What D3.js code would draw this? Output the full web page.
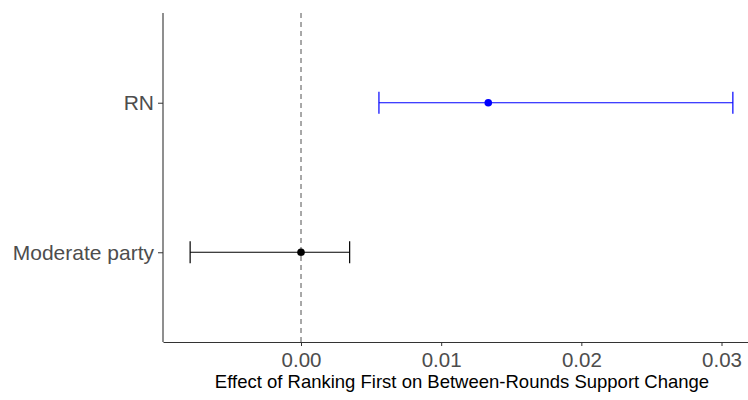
<!DOCTYPE html>
<html>
<head>
<style>
  body { margin: 0; background: #fff; }
  svg { display: block; font-family: "Liberation Sans", Arial, sans-serif; }
</style>
</head>
<body>
<svg width="748" height="400"></svg>
<script src="https://cdn.jsdelivr.net/npm/d3@7"></script>
<script>
// data
var parties = ["RN", "Moderate party"];
var estimates = [0.01336, 0.0];
var lower = [0.00556, -0.00791];
var upper = [0.03081, 0.00347];
var colors = ["#0000FF", "#000000"];
var xTicks = [0.00, 0.01, 0.02, 0.03];

var svg = d3.select("svg");
var plotLeft = 163, plotTop = 13, plotBottom = 342;

// ggplot-like 5% expansion
var lo = d3.min(lower), hi = d3.max(upper), pad = (hi - lo) * 0.05;
var x = d3.scaleLinear()
    .domain([lo - pad, hi + pad])
    .range([plotLeft, 760]);

var y = d3.scalePoint()
    .domain(parties)
    .range([plotTop, plotBottom])
    .padding(0.6);

// zero reference line
svg.append("line")
    .attr("x1", x(0)).attr("x2", x(0))
    .attr("y1", plotTop).attr("y2", plotBottom)
    .attr("stroke", "#8c8c8c")
    .attr("stroke-width", 1.5)
    .attr("stroke-dasharray", "5,4");

// x axis
var xAxis = svg.append("g")
    .attr("transform", "translate(0," + plotBottom + ")")
    .call(d3.axisBottom(x).tickValues(xTicks).tickFormat(d3.format(".2f")).tickSize(4).tickSizeOuter(0));
xAxis.select(".domain").attr("stroke", "#333").attr("stroke-width", 1.1);
xAxis.selectAll(".tick line").attr("stroke", "#333");
xAxis.selectAll(".tick text")
    .attr("fill", "#4d4d4d")
    .attr("font-size", 20.5)
    .attr("y", 25)
    .attr("dy", 0);

// y axis
var yAxis = svg.append("g")
    .attr("transform", "translate(" + plotLeft + ",0)")
    .call(d3.axisLeft(y).tickSize(5).tickSizeOuter(0));
yAxis.select(".domain").attr("stroke", "#333").attr("stroke-width", 1.1)
    .attr("d", "M0," + plotTop + "V" + plotBottom);
yAxis.selectAll(".tick line").attr("stroke", "#333");
yAxis.selectAll(".tick text")
    .attr("fill", "#4d4d4d")
    .attr("font-size", 21)
    .attr("x", -9);

// axis title
svg.append("text")
    .attr("x", 462)
    .attr("y", 388)
    .attr("text-anchor", "middle")
    .attr("font-size", 18.5)
    .attr("fill", "#000")
    .text("Effect of Ranking First on Between-Rounds Support Change");

// error bars
var rows = parties.map(function(p, i) {
  return { party: p, est: estimates[i], lo: lower[i], hi: upper[i], color: colors[i] };
});

var g = svg.append("g").selectAll("g")
    .data(rows)
  .enter().append("g");

g.append("line")
    .attr("x1", function(d) { return x(d.lo); })
    .attr("x2", function(d) { return x(d.hi); })
    .attr("y1", function(d) { return y(d.party); })
    .attr("y2", function(d) { return y(d.party); })
    .attr("stroke", function(d) { return d.color; })
    .attr("stroke-width", 1.2);

["lo", "hi"].forEach(function(k) {
  g.append("line")
      .attr("x1", function(d) { return x(d[k]); })
      .attr("x2", function(d) { return x(d[k]); })
      .attr("y1", function(d) { return y(d.party) - 11; })
      .attr("y2", function(d) { return y(d.party) + 11; })
      .attr("stroke", function(d) { return d.color; })
      .attr("stroke-width", 1.2);
});

g.append("circle")
    .attr("cx", function(d) { return x(d.est); })
    .attr("cy", function(d) { return y(d.party); })
    .attr("r", 3.8)
    .attr("fill", function(d) { return d.color; });
</script>
</body>
</html>
